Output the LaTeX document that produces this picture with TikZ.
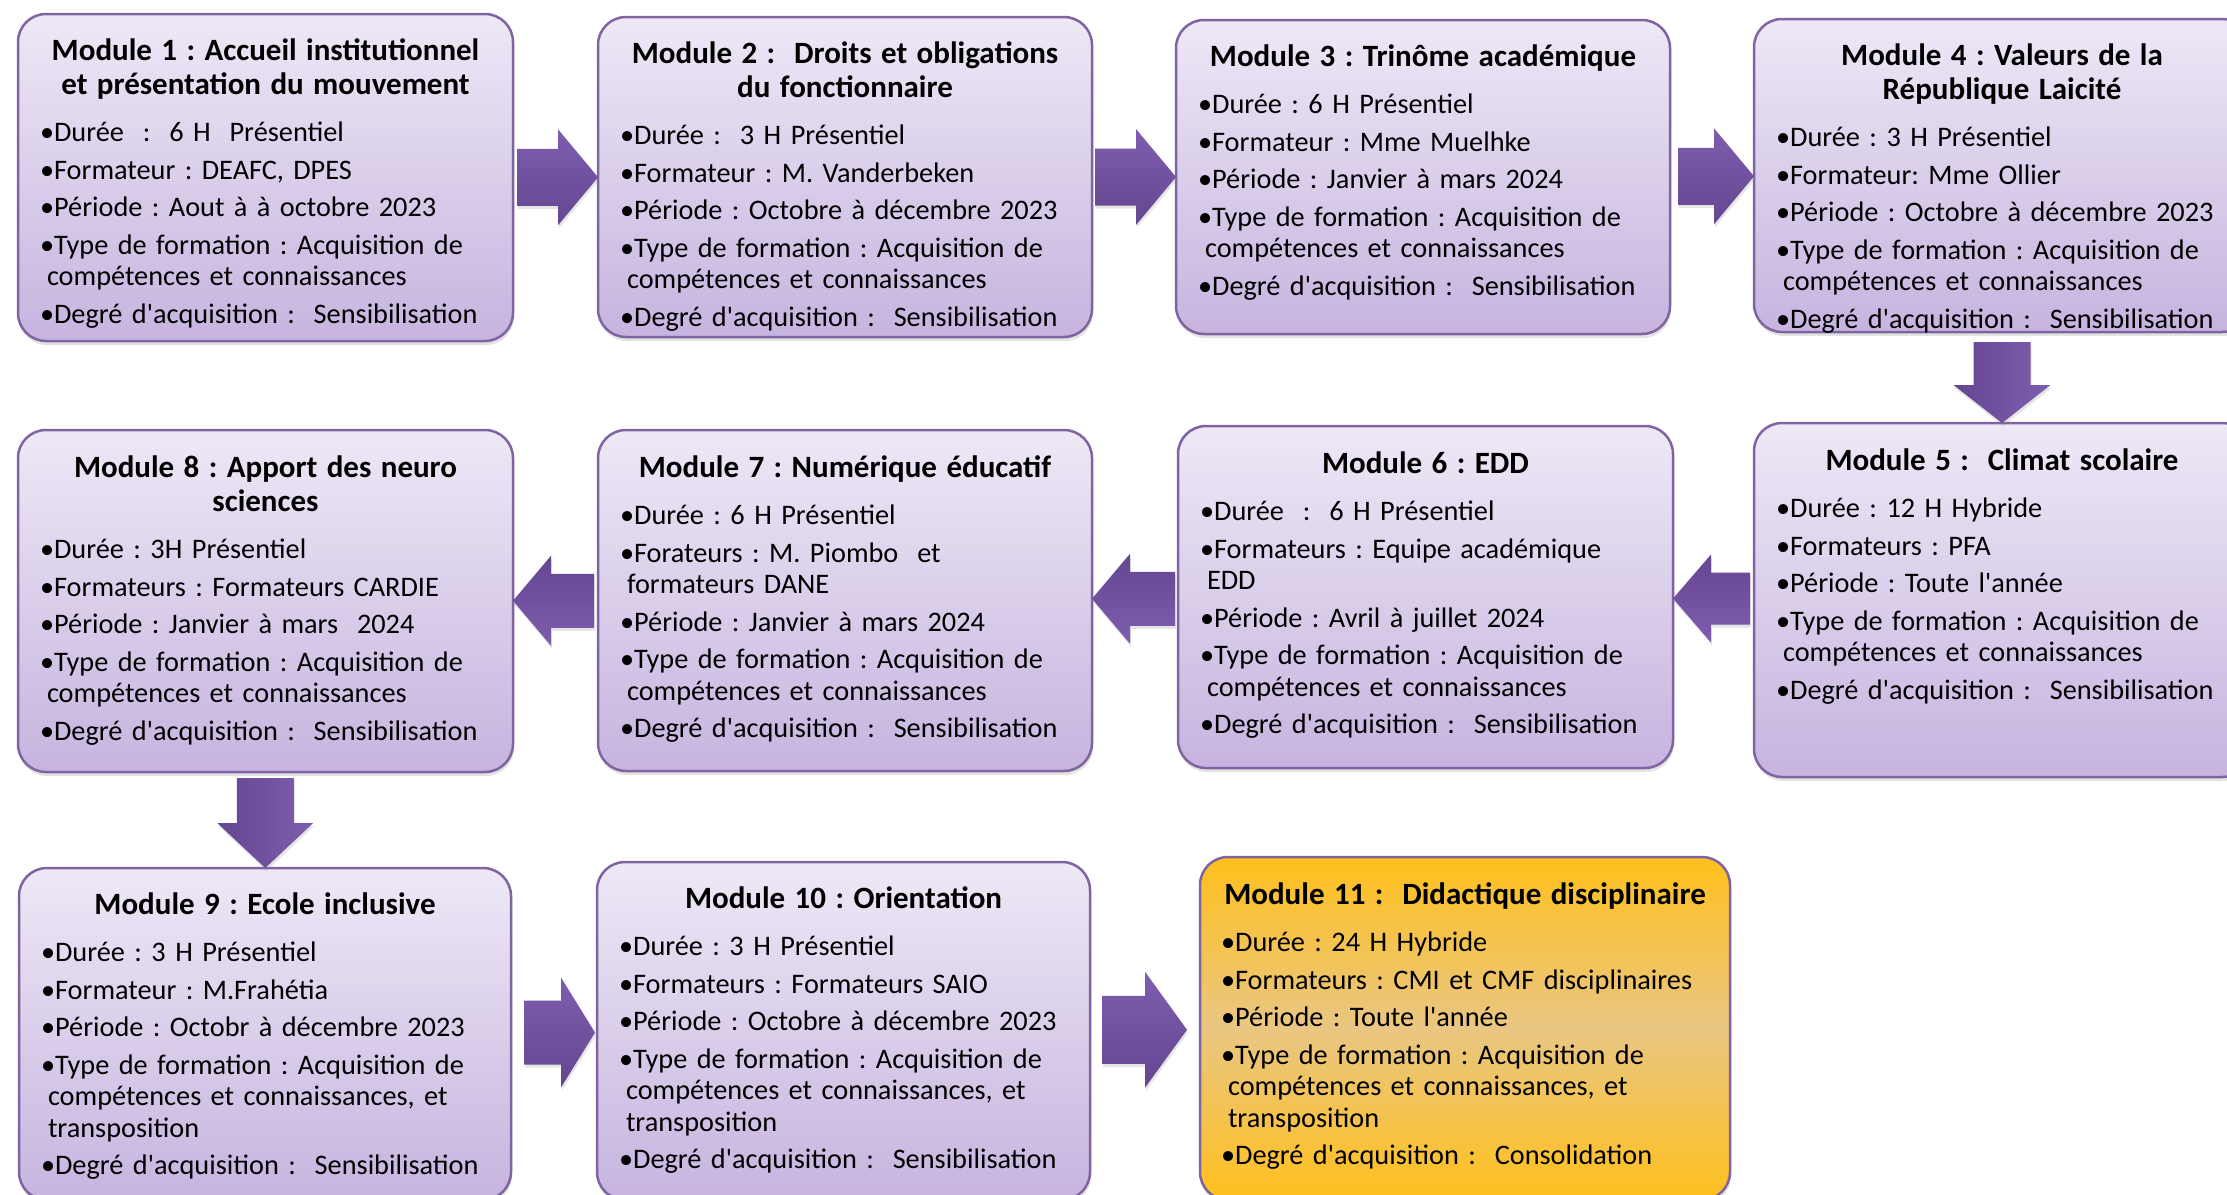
\documentclass[tikz,border=0pt]{standalone}
\usepackage{fontspec}
\setmainfont{Carlito}[Ligatures=TeXOff]
\usetikzlibrary{calc,shadows}
\definecolor{boxtop}{HTML}{EEE8F6}
\definecolor{boxbot}{HTML}{C6B4DF}
\definecolor{boxline}{HTML}{8064A2}
\definecolor{arrlight}{HTML}{7F5DAF}
\definecolor{arrdark}{HTML}{644690}
\definecolor{goldtop}{HTML}{FFC01C}
\definecolor{goldmid}{HTML}{E9C683}
\newcommand\ttl[2][20pt]{{\leftskip=0pt plus 1fil\rightskip=#1 plus 1fil\parfillskip=0pt\fontsize{31}{34}\selectfont\bfseries\rule{0pt}{26pt}#2\par}\vspace{10pt}}
\newcommand\bl[1]{\par\vspace{6pt}\hangindent=7pt\hangafter=1\noindent\textbullet#1}
\newcommand\typA{Type de formation : Acquisition de\newline compétences et connaissances}
\newcommand\typB{Type de formation : Acquisition de\newline compétences et connaissances, et\newline transposition}
\newcommand\dgr[1]{Degré d'acquisition :~~#1}
\newcommand\modbox[6]{\node[#6, minimum width={#4pt-#2pt}, minimum height={#5pt-#3pt}] (#1) at ({(#2+#4)/2},{(#3+#5)/2}) {};}
% arrows: from, to, startgap, tipgap, shaft half, head half, head length, style
\newcommand\arR[8]{\path[blockarrow,#8] let \p1=(#1.east), \p2=(#2.west), \p3=($(\p1)!0.5!(\p2)$) in
 (\x1+#3pt,\y3+#5pt) -- (\x2-#4pt-#7pt,\y3+#5pt) -- (\x2-#4pt-#7pt,\y3+#6pt) -- (\x2-#4pt,\y3) -- (\x2-#4pt-#7pt,\y3-#6pt) -- (\x2-#4pt-#7pt,\y3-#5pt) -- (\x1+#3pt,\y3-#5pt) -- cycle;}
\newcommand\arL[8]{\path[blockarrow,#8] let \p1=(#1.west), \p2=(#2.east), \p3=($(\p1)!0.5!(\p2)$) in
 (\x1-#3pt,\y3+#5pt) -- (\x2+#4pt+#7pt,\y3+#5pt) -- (\x2+#4pt+#7pt,\y3+#6pt) -- (\x2+#4pt,\y3) -- (\x2+#4pt+#7pt,\y3-#6pt) -- (\x2+#4pt+#7pt,\y3-#5pt) -- (\x1-#3pt,\y3-#5pt) -- cycle;}
\newcommand\arD[8]{\path[blockarrow,#8] let \p1=(#1.south), \p2=(#2.north), \p3=($(\p1)!0.5!(\p2)$) in
 (\x3-#5pt,\y1-#3pt) -- (\x3-#5pt,\y2+#4pt+#7pt) -- (\x3-#6pt,\y2+#4pt+#7pt) -- (\x3,\y2+#4pt) -- (\x3+#6pt,\y2+#4pt+#7pt) -- (\x3+#5pt,\y2+#4pt+#7pt) -- (\x3+#5pt,\y1-#3pt) -- cycle;}
\tikzset{
  modstyle/.style={rectangle, rounded corners=28pt, draw=boxline, line width=2.5pt, inner sep=0pt, outer sep=0pt,
    drop shadow={shadow xshift=1pt, shadow yshift=-4pt, opacity=0.22}},
  lav/.style={modstyle, top color=boxtop, bottom color=boxbot},
  gold/.style={modstyle, top color=goldtop, bottom color=goldtop, middle color=goldmid},
  txt/.style={anchor=north west, inner sep=0pt, outer sep=0pt, text width=#1, align=left,
    font=\fontsize{28.3}{31.5}\selectfont\frenchspacing},
  blockarrow/.style={draw=none, drop shadow={shadow xshift=1pt, shadow yshift=-3pt, opacity=0.2}},
  rshade/.style={top color=arrlight, bottom color=arrdark},
  lshade/.style={top color=arrdark, bottom color=arrlight},
  dshade/.style={left color=arrdark, right color=arrlight},
}
\begin{document}
\begin{tikzpicture}[x=1pt,y=-1pt]
\fill[white] (0,0) rectangle (2227,1194);
\useasboundingbox (0,0) rectangle (2227,1194);
% boxes
\modbox{m1}{18}{14}{513}{341}{lav}
\modbox{m2}{598}{17}{1092}{337}{lav}
\modbox{m3}{1176}{20}{1670}{334}{lav}
\modbox{m4}{1754}{19}{2250}{332}{lav}
\modbox{m5}{1754}{423}{2250}{777}{lav}
\modbox{m6}{1178}{426}{1673}{768}{lav}
\modbox{m7}{598}{430}{1092}{771}{lav}
\modbox{m8}{18}{430}{513}{772}{lav}
\modbox{m9}{19}{868}{511}{1200}{lav}
\modbox{m10}{597}{862}{1090}{1200}{lav}
\modbox{m11}{1200}{857}{1730}{1200}{gold}
% texts
\node[txt=471pt] (t1) at ($(m1.north west)+(22,20)$) {\ttl{Module 1 : Accueil institutionnel\\ et présentation du mouvement}%
 \bl{Durée~~:~~6 H~~Présentiel}\bl{Formateur : DEAFC, DPES}\bl{Période : Aout à à octobre 2023}\bl{\typA}\bl{\dgr{Sensibilisation}}};
\node[txt=470pt] (t2) at ($(m2.north west)+(22,20)$) {\ttl{Module 2 :~~Droits et obligations\\ du fonctionnaire}%
 \bl{Durée :~~3 H Présentiel}\bl{Formateur : M. Vanderbeken}\bl{Période : Octobre à décembre 2023}\bl{\typA}\bl{\dgr{Sensibilisation}}};
\node[txt=470pt] (t3) at ($(m3.north west)+(22,20)$) {\ttl{Module 3 : Trinôme académique}%
 \bl{Durée : 6 H Présentiel}\bl{Formateur : Mme Muelhke}\bl{Période : Janvier à mars 2024}\bl{\typA}\bl{\dgr{Sensibilisation}}};
\node[txt=472pt] (t4) at ($(m4.north west)+(22,20)$) {\ttl{Module 4 : Valeurs de la\\ République Laicité}%
 \bl{Durée : 3 H Présentiel}\bl{Formateur: Mme Ollier}\bl{Période : Octobre à décembre 2023}\bl{\typA}\bl{\dgr{Sensibilisation}}};
\node[txt=472pt] (t5) at ($(m5.north west)+(22,21)$) {\ttl{Module 5 :~~Climat scolaire}%
 \bl{Durée : 12 H Hybride}\bl{Formateurs : PFA}\bl{Période : Toute l'année}\bl{\typA}\bl{\dgr{Sensibilisation}}};
\node[txt=471pt] (t6) at ($(m6.north west)+(22,21)$) {\ttl{Module 6 : EDD}%
 \bl{Durée~~:~~6 H Présentiel}\bl{Formateurs : Equipe académique\newline EDD}\bl{Période : Avril à juillet 2024}\bl{\typA}\bl{\dgr{Sensibilisation}}};
\node[txt=470pt] (t7) at ($(m7.north west)+(22,21)$) {\ttl{Module 7 : Numérique éducatif}%
 \bl{Durée : 6 H Présentiel}\bl{Forateurs : M. Piombo~~et\newline formateurs DANE}\bl{Période : Janvier à mars 2024}\bl{\typA}\bl{\dgr{Sensibilisation}}};
\node[txt=471pt] (t8) at ($(m8.north west)+(22,21)$) {\ttl{Module 8 : Apport des neuro\\ sciences}%
 \bl{Durée : 3H Présentiel}\bl{Formateurs : Formateurs CARDIE}\bl{Période : Janvier à mars~~2024}\bl{\typA}\bl{\dgr{Sensibilisation}}};
\node[txt=468pt] (t9) at ($(m9.north west)+(22,20)$) {\ttl{Module 9 : Ecole inclusive}%
 \bl{Durée : 3 H Présentiel}\bl{Formateur : M.Frahétia}\bl{Période : Octobr à décembre 2023}\bl{\typB}\bl{\dgr{Sensibilisation}}};
\node[txt=469pt] (t10) at ($(m10.north west)+(22,20)$) {\ttl{Module 10 : Orientation}%
 \bl{Durée : 3 H Présentiel}\bl{Formateurs : Formateurs SAIO}\bl{Période : Octobre à décembre 2023}\bl{\typB}\bl{\dgr{Sensibilisation}}};
\node[txt=488pt] (t11) at ($(m11.north west)+(21,21)$) {\ttl[0pt]{\mbox{Module 11 :~~Didactique disciplinaire}}%
 \bl{Durée : 24 H Hybride}\bl{Formateurs : CMI et CMF disciplinaires}\bl{Période : Toute l'année}\bl{\typB}\bl{\dgr{Consolidation}}};
% arrows
\arR{m1}{m2}{4}{0}{28.5}{48}{40}{rshade}
\arR{m2}{m3}{3}{0}{28.5}{48}{40}{rshade}
\arR{m3}{m4}{8}{0}{28.5}{48}{40}{rshade}
\arD{m4}{m5}{10}{0}{28.5}{48.5}{38}{dshade}
\arL{m5}{m6}{4}{0}{26}{44}{38}{lshade}
\arL{m6}{m7}{3}{0}{27}{45}{38}{lshade}
\arL{m7}{m8}{4}{0}{27}{45}{38}{lshade}
\arD{m8}{m9}{6}{0}{28.5}{48}{45}{dshade}
\arR{m9}{m10}{13}{2}{32}{55}{34}{rshade}
\arR{m10}{m11}{12}{13}{34}{58}{42}{rshade}
\end{tikzpicture}
\end{document}
